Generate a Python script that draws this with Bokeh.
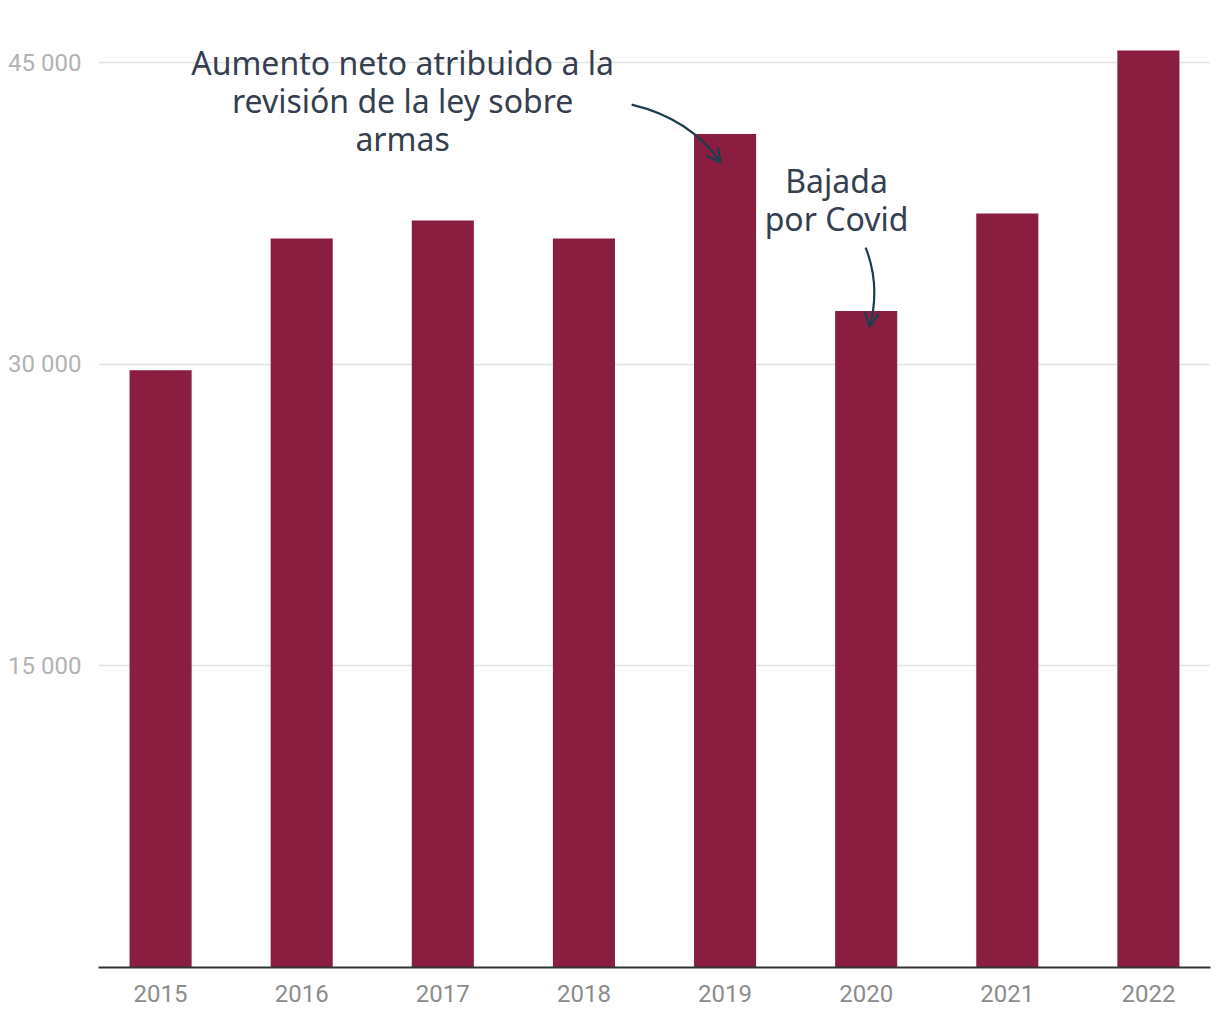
from bokeh.plotting import figure
from bokeh.models import Range1d, FixedTicker, Arrow, OpenHead, ColumnDataSource
from bokeh.core.properties import value
from bokeh.embed import file_html
from bokeh.resources import INLINE

years = ["2015", "2016", "2017", "2018", "2019", "2020", "2021", "2022"]
counts = [29700, 36250, 37150, 36250, 41450, 32650, 37500, 45600]
y_ticks = [15000, 30000, 45000]
y_tick_labels = ["15 000", "30 000", "45 000"]

ann1_lines = ["Aumento neto atribuido a la", "revisión de la ley sobre", "armas"]
ann2_lines = ["Bajada", "por Covid"]

BAR = "#8a1e41"
TXT = "#353f50"
ARR = "#1c3d50"
GREY = "#b3b3b3"

xs = list(range(len(years)))
src = ColumnDataSource(dict(x=xs, top=counts))

p = figure(width=1212, height=1012, output_backend="svg", toolbar_location=None,
           x_range=Range1d(-0.44, len(years) - 1 + 0.44), y_range=Range1d(0, 47690),
           min_border_left=98, min_border_right=2, min_border_top=8, min_border_bottom=45)
p.outline_line_color = None
p.background_fill_color = "white"
p.border_fill_color = "white"

p.vbar(x="x", top="top", width=0.44, source=src, color=BAR, line_color=None)

# axes
p.xaxis.ticker = FixedTicker(ticks=xs)
p.xaxis.major_label_overrides = {i: y for i, y in enumerate(years)}
p.xaxis.major_tick_line_color = None
p.xaxis.minor_tick_line_color = None
p.xaxis.axis_line_color = "#333333"
p.xaxis.axis_line_width = 2
p.xaxis.major_label_text_font = "Roboto"
p.xaxis.major_label_text_font_size = "24px"
p.xaxis.major_label_text_color = "#8c8c8c"
p.xaxis.major_label_standoff = 11

p.yaxis.ticker = FixedTicker(ticks=y_ticks)
p.yaxis.major_label_overrides = dict(zip(y_ticks, y_tick_labels))
p.yaxis.axis_line_color = None
p.yaxis.major_tick_line_color = None
p.yaxis.minor_tick_line_color = None
p.yaxis.major_label_text_font = "Roboto"
p.yaxis.major_label_text_font_size = "24px"
p.yaxis.major_label_text_color = GREY
p.yaxis.major_label_standoff = 11

p.xgrid.grid_line_color = None
p.ygrid.grid_line_color = "#e3e3e3"
p.ygrid.grid_line_width = 1.5

# annotations
p.text(x=[1.715] * 3, y=[45020, 43131, 41241], text=ann1_lines,
       text_font=value("Noto Sans"), text_font_size="32px", text_color=TXT,
       text_align="center", text_baseline="middle")
p.text(x=[4.79] * 2, y=[39153, 37263], text=ann2_lines,
       text_font=value("Noto Sans"), text_font_size="32px", text_color=TXT,
       text_align="center", text_baseline="middle")

# curved arrows
p.quadratic(x0=[3.338], y0=[42912], x1=[3.969], y1=[40028], cx=[3.756], cy=[42215],
            line_color=ARR, line_width=2.2)
p.add_layout(Arrow(end=OpenHead(line_color=ARR, line_width=2.2, size=14),
                   x_start=3.945, y_start=40250, x_end=3.969, y_end=40028,
                   line_color=ARR, line_width=2.2))

p.quadratic(x0=[4.996], y0=[35801], x1=[5.025], y1=[31873], cx=[5.103], cy=[33911],
            line_color=ARR, line_width=2.2)
p.add_layout(Arrow(end=OpenHead(line_color=ARR, line_width=2.2, size=14),
                   x_start=5.03, y_start=32100, x_end=5.025, y_end=31873,
                   line_color=ARR, line_width=2.2))

open("out.html", "w").write(file_html(p, INLINE))
